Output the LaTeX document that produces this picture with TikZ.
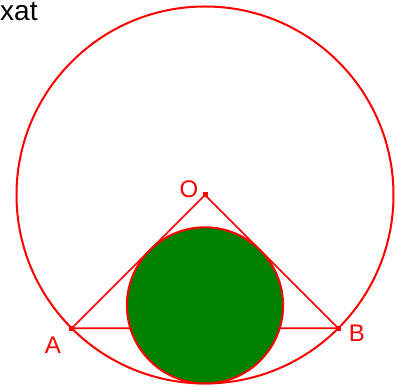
\documentclass[tikz,border=0pt]{standalone}
\usepackage{fontspec}
\setmainfont{Liberation Sans}
\definecolor{dgreen}{RGB}{0,128,0}
\begin{document}
\begin{tikzpicture}[x=1pt,y=1pt,
  redline/.style={draw=red,line width=2pt},
  dotsq/.style={fill=red,inner sep=0pt,minimum size=5pt,rectangle},
  lbl/.style={text=red,font=\fontsize{24}{26}\selectfont,inner sep=0pt}]
\useasboundingbox (0,0) rectangle (397,390);
\coordinate (Oc) at (205,195);
\node[dotsq] (O) at (205,195) {};
\node[dotsq] (A) at (71.7,61.7) {};
\node[dotsq] (B) at (338.3,61.7) {};
\draw[redline] (Oc) circle[radius=188.5];
\draw[redline,line width=1.7pt] (O.center) -- (A.center) -- (B.center) -- cycle;
\draw[redline,fill=dgreen] (205,84.6) circle[radius=78.1];
\node[lbl] (Ol) at (189,201) {O};
\node[lbl] (Al) at (53,45) {A};
\node[lbl] (Bl) at (357,57) {B};
\node[anchor=base west,inner sep=0pt,font=\fontsize{28}{30}\selectfont] (T) at (0,369) {xat};
\end{tikzpicture}
\end{document}
